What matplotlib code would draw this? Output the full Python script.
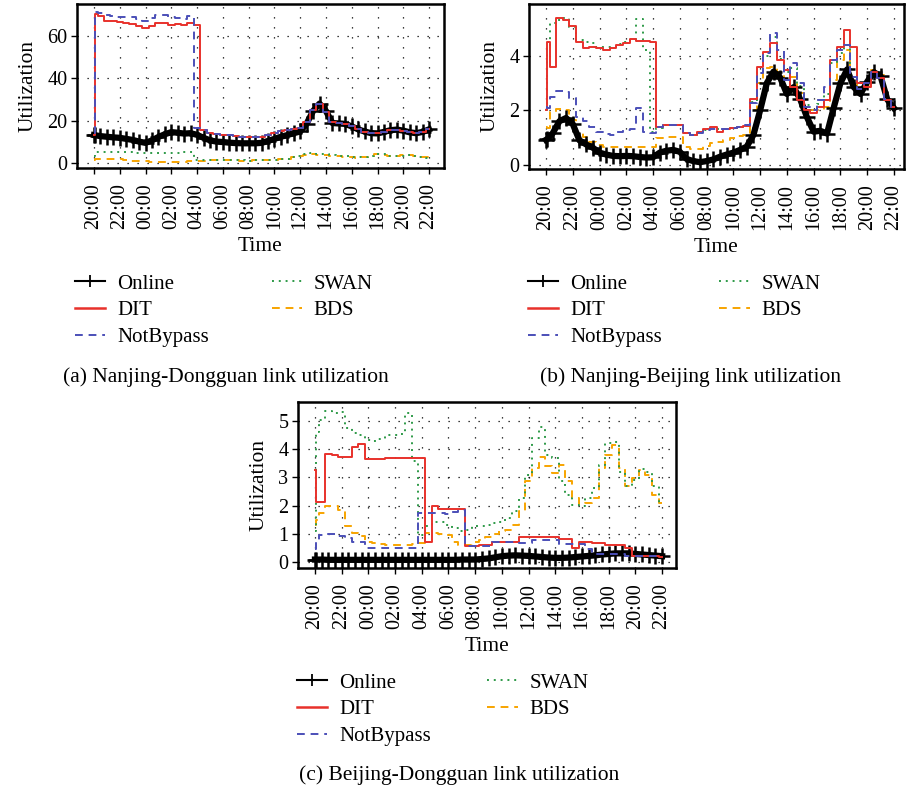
import numpy as np
import matplotlib
matplotlib.use("Agg")
import matplotlib.pyplot as plt
from matplotlib.lines import Line2D

plt.rcParams['font.family'] = ['Liberation Serif', 'DejaVu Serif']
plt.rcParams['font.size'] = 14

# time axis in hours after 20:00 (first day) up to 22:00 (next day)
hours = np.array([0.0, 0.1] + [0.5 * k for k in range(1, 53)])
tick_hours = list(range(0, 27, 2))
tick_labels = ['20:00', '22:00', '00:00', '02:00', '04:00', '06:00', '08:00',
               '10:00', '12:00', '14:00', '16:00', '18:00', '20:00', '22:00']
series_names = ['Online', 'DIT', 'NotBypass', 'SWAN', 'BDS']

# (a) Nanjing-Dongguan
nd_online = [13.1, 13.0, 12.6, 12.3, 12.0, 11.8, 11.3, 10.8, 10.0, 9.4, 10.6, 12.2, 13.5, 14.5,
             14.2, 13.8, 14.0, 13.2, 11.8, 10.6, 10.0, 9.8, 9.5, 9.3, 9.2, 9.2, 9.2, 9.4,
             10.3, 11.3, 12.3, 13.1, 14.0, 14.8, 18.5, 24.5, 28.0, 24.5, 18.8, 18.6, 18.4,
             17.2, 15.8, 14.8, 14.0, 13.9, 14.6, 15.4, 15.7, 15.2, 14.4, 14.0, 14.6, 15.8]
nd_dit = [13.0, 70.5, 69.5, 67.3, 67.0, 66.7, 66.3, 65.7, 64.8, 63.7, 65.0, 66.3, 66.0, 65.2,
          65.5, 65.3, 66.2, 65.2, 15.5, 13.9, 13.5, 13.1, 12.9, 12.6, 12.4, 12.3, 12.2, 12.3,
          13.0, 13.9, 14.8, 15.5, 16.0, 16.6, 19.5, 25.0, 28.0, 24.0, 19.2, 18.8, 18.4,
          17.4, 16.0, 14.7, 14.0, 13.9, 14.6, 15.4, 15.7, 15.2, 14.4, 14.0, 14.6, 15.8]
nd_notbypass = [14.0, 71.6, 70.8, 70.0, 69.5, 69.2, 69.0, 68.9, 68.0, 67.0, 68.5, 70.0, 69.8,
                69.2, 68.6, 68.0, 69.5, 16.5, 15.5, 14.0, 13.5, 13.1, 12.9, 12.6, 12.4, 12.3,
                12.2, 12.3, 13.0, 13.9, 14.8, 15.5, 16.0, 16.6, 19.5, 25.0, 28.0, 24.0, 19.2,
                18.8, 18.4, 17.4, 16.0, 14.7, 14.0, 13.9, 14.6, 15.4, 15.7, 15.2, 14.4, 14.0,
                14.6, 15.8]
nd_swan = [3.0, 5.2, 5.2, 5.3, 5.2, 5.2, 5.0, 4.9, 4.8, 4.7, 4.7, 4.8, 4.8, 4.7, 4.8, 5.0,
           5.2, 1.3, 1.3, 1.4, 1.5, 1.4, 1.3, 1.2, 1.1, 1.0, 1.1, 1.3, 1.3, 1.4, 1.6, 2.0,
           2.8, 3.3, 4.0, 4.7, 4.3, 4.1, 3.6, 3.4, 3.0, 2.6, 2.5, 2.6, 3.4, 4.2, 4.0, 3.4,
           3.2, 3.4, 3.5, 3.2, 2.8, 2.3]
nd_bds = [1.5, 1.6, 1.8, 1.9, 1.9, 1.6, 1.2, 0.9, 0.7, 0.6, 0.5, 0.5, 0.5, 0.5, 0.5, 0.5,
          0.6, 0.6, 1.0, 1.2, 1.3, 1.3, 1.2, 1.1, 1.0, 1.0, 1.1, 1.3, 1.3, 1.3, 1.6, 1.9,
          2.6, 3.3, 3.7, 4.0, 3.8, 3.6, 3.4, 3.2, 2.8, 2.5, 2.4, 2.5, 3.2, 4.0, 3.8, 3.2,
          3.2, 3.6, 3.5, 3.2, 2.9, 2.5]

# (b) Nanjing-Beijing
nb_online = [0.92, 0.95, 1.16, 1.60, 1.72, 1.50, 0.90, 0.75, 0.63, 0.45, 0.38, 0.33, 0.32,
             0.33, 0.32, 0.29, 0.27, 0.28, 0.45, 0.52, 0.55, 0.48, 0.22, 0.14, 0.10, 0.14,
             0.20, 0.30, 0.38, 0.45, 0.55, 0.67, 1.10, 2.00, 3.00, 3.42, 3.20, 2.60, 2.85,
             2.40, 1.75, 1.22, 1.25, 1.15, 2.10, 3.00, 3.50, 2.85, 2.60, 3.05, 3.40, 3.25,
             2.40, 2.08]
nb_dit = [2.00, 4.50, 3.60, 5.40, 5.30, 5.10, 4.50, 4.27, 4.33, 4.27, 4.22, 4.27, 4.40, 4.46,
          4.60, 4.55, 4.55, 4.52, 1.40, 1.47, 1.47, 1.47, 1.16, 1.10, 1.22, 1.32, 1.38, 1.22,
          1.30, 1.34, 1.38, 1.42, 2.40, 3.60, 4.15, 4.46, 3.85, 3.48, 2.87, 2.38, 2.00, 1.90,
          2.14, 2.38, 3.85, 4.33, 4.95, 4.33, 3.00, 2.87, 3.42, 3.20, 2.38, 2.12]
nb_notbypass = [2.14, 2.10, 2.50, 2.70, 2.66, 2.44, 1.77, 1.62, 1.40, 1.22, 1.14, 1.10, 1.22,
                1.28, 1.30, 2.10, 1.22, 1.18, 1.40, 1.47, 1.47, 1.47, 1.16, 1.10, 1.16, 1.28,
                1.30, 1.30, 1.32, 1.34, 1.40, 1.47, 2.26, 3.36, 4.10, 4.82, 4.20, 3.10, 3.72,
                3.00, 2.14, 2.00, 2.38, 2.87, 3.85, 4.20, 4.40, 3.24, 2.80, 3.00, 3.40, 3.20,
                2.40, 2.10]
nb_swan = [2.00, 4.30, 5.20, 5.30, 5.37, 5.07, 4.58, 4.52, 4.46, 4.33, 4.33, 4.33, 4.43, 4.52,
           4.60, 5.35, 4.20, 1.22, 1.35, 1.47, 1.47, 1.45, 1.16, 1.10, 1.16, 1.28, 1.30, 1.30,
           1.32, 1.36, 1.40, 1.45, 2.30, 3.40, 4.00, 4.70, 3.90, 3.40, 3.55, 2.90, 2.20, 2.00,
           2.25, 2.60, 3.75, 4.10, 4.40, 3.50, 2.75, 2.95, 3.40, 3.20, 2.40, 2.10]
nb_bds = [1.40, 1.35, 1.95, 2.04, 2.00, 1.65, 1.16, 1.04, 0.85, 0.73, 0.67, 0.65, 0.65, 0.65,
          0.65, 0.65, 0.65, 0.65, 1.00, 1.04, 1.04, 1.04, 0.67, 0.60, 0.59, 0.70, 0.82, 0.85,
          0.92, 1.00, 1.05, 1.10, 2.00, 3.00, 3.54, 3.60, 3.42, 2.87, 3.24, 2.62, 2.14, 2.00,
          2.00, 2.14, 3.10, 3.85, 4.20, 3.60, 2.75, 2.93, 3.48, 3.30, 2.38, 2.08]

# (c) Beijing-Dongguan
bd_online = [0.08, 0.08, 0.08, 0.07, 0.07, 0.07, 0.07, 0.07, 0.07, 0.07, 0.07, 0.07, 0.07,
             0.07, 0.07, 0.07, 0.07, 0.07, 0.07, 0.07, 0.07, 0.07, 0.07, 0.08, 0.08, 0.08,
             0.10, 0.12, 0.16, 0.20, 0.22, 0.23, 0.22, 0.21, 0.19, 0.17, 0.15, 0.14, 0.14,
             0.15, 0.17, 0.19, 0.21, 0.23, 0.26, 0.28, 0.30, 0.30, 0.30, 0.28, 0.26, 0.24,
             0.22, 0.20]
bd_dit = [3.27, 2.12, 2.12, 3.83, 3.80, 3.72, 3.72, 4.08, 4.20, 3.65, 3.66, 3.67, 3.68, 3.70,
          3.70, 3.70, 3.70, 3.70, 0.72, 1.97, 1.88, 1.88, 1.88, 1.88, 0.57, 0.57, 0.58, 0.60,
          0.70, 0.70, 0.70, 0.70, 0.87, 0.87, 0.87, 0.87, 0.87, 0.87, 0.82, 0.82, 0.50, 0.70,
          0.70, 0.66, 0.66, 0.58, 0.58, 0.58, 0.48, 0.22, 0.22, 0.20, 0.20, 0.18]
bd_notbypass = [0.45, 0.75, 0.94, 0.99, 0.99, 0.90, 0.84, 0.70, 0.70, 0.48, 0.48, 0.48, 0.48,
                0.48, 0.48, 0.48, 0.48, 1.73, 1.73, 1.75, 1.72, 1.70, 1.78, 1.85, 0.57, 0.57,
                0.57, 0.57, 0.72, 0.72, 0.72, 0.72, 0.66, 0.66, 0.78, 0.78, 0.78, 0.78, 0.63,
                0.63, 0.63, 0.63, 0.45, 0.27, 0.27, 0.27, 0.27, 0.27, 0.21, 0.21, 0.21, 0.21,
                0.21, 0.20]
bd_swan = [1.10, 4.60, 5.05, 5.35, 5.28, 5.32, 4.75, 4.57, 4.49, 4.34, 4.30, 4.37, 4.49, 4.50,
           4.54, 5.28, 3.60, 0.96, 1.26, 1.41, 1.43, 1.31, 1.20, 1.10, 1.14, 1.26, 1.28, 1.31,
           1.37, 1.43, 1.55, 1.79, 2.26, 3.09, 4.40, 4.80, 3.80, 3.68, 2.86, 2.38, 2.03, 1.97,
           2.26, 2.62, 3.44, 4.21, 4.27, 3.20, 2.68, 2.90, 3.30, 3.20, 2.70, 2.05]
bd_bds = [1.31, 1.50, 1.73, 2.00, 2.00, 1.85, 1.26, 1.02, 0.90, 0.72, 0.66, 0.63, 0.60, 0.60,
          0.60, 0.60, 0.63, 0.66, 1.02, 1.02, 1.00, 0.96, 0.72, 0.58, 0.60, 0.70, 0.78, 0.87,
          0.99, 1.08, 1.14, 1.31, 1.79, 2.86, 3.33, 3.74, 3.39, 3.15, 3.44, 2.86, 2.26, 2.05,
          2.09, 2.26, 3.33, 3.80, 4.15, 3.33, 2.68, 2.98, 3.27, 3.09, 2.38, 2.09]

RED = '#e8312b'
BLUE = '#4b4fb8'
GREEN = '#2e9a48'
ORANGE = '#f7a400'

W, H = 906, 791


def px_axes(fig, left, top, right, bottom):
    return fig.add_axes([left / W, 1 - bottom / H, (right - left) / W, (bottom - top) / H])


def draw_panel(ax, online, dit, notbypass, swan, bds, xlim, ylim, yticks):
    ax.plot(hours, bds, color=ORANGE, lw=1.4, ls=(0, (4, 3)), drawstyle='steps-mid')
    ax.plot(hours, swan, color=GREEN, lw=1.4, ls=(0, (1, 2.5)), drawstyle='steps-mid')
    ax.plot(hours, online, color='black', lw=4.5, marker='+', ms=11, mew=1.8)
    ax.plot(hours, dit, color=RED, lw=1.4, drawstyle='steps-mid')
    ax.plot(hours, notbypass, color=BLUE, lw=1.4, ls=(0, (4, 3)), drawstyle='steps-mid')
    ax.set_xlim(*xlim)
    ax.set_ylim(*ylim)
    ax.set_xticks(tick_hours)
    ax.set_xticklabels(tick_labels, rotation=90)
    ax.set_yticks(yticks)
    ax.grid(True, color='black', linestyle=(0, (1, 7)), linewidth=0.9)
    ax.tick_params(direction='out', length=4, width=1, labelsize=14.5)
    ax.tick_params(axis='x', pad=7)
    ax.tick_params(axis='y', pad=3)
    for s in ax.spines.values():
        s.set_linewidth(1.8)
    ax.set_xlabel('Time', fontsize=15.5, labelpad=6)
    ax.set_ylabel('Utilization', fontsize=15.5, labelpad=7)


def add_legend(fig, left, top, colspace):
    handles = [
        Line2D([], [], color='black', lw=1.5, marker='+', ms=9, mew=1.3),
        Line2D([], [], color=RED, lw=1.8),
        Line2D([], [], color=BLUE, lw=1.4, ls=(0, (4, 3))),
        Line2D([], [], color=GREEN, lw=1.4, ls=(0, (1, 2.5))),
        Line2D([], [], color=ORANGE, lw=1.4, ls=(0, (4, 3))),
    ]
    fig.legend(handles, series_names, loc='upper left', bbox_to_anchor=(left / W, 1 - top / H),
               ncol=2, frameon=False, borderpad=0, borderaxespad=0, handlelength=1.45,
               handletextpad=0.58, columnspacing=colspace, labelspacing=0.35, fontsize=15)


fig = plt.figure(figsize=(W / 100, H / 100), dpi=100)

ax_a = px_axes(fig, 77, 4, 444, 168)
draw_panel(ax_a, nd_online, nd_dit, nd_notbypass, nd_swan, nd_bds,
           (-1.32, 27.16), (-2.5, 75.2), [0, 20, 40, 60])
ax_b = px_axes(fig, 529, 4, 904, 169)
draw_panel(ax_b, nb_online, nb_dit, nb_notbypass, nb_swan, nb_bds,
           (-1.27, 26.75), (-0.15, 5.9), [0, 2, 4])
ax_c = px_axes(fig, 298, 402, 676, 568)
draw_panel(ax_c, bd_online, bd_dit, bd_notbypass, bd_swan, bd_bds,
           (-1.27, 27.04), (-0.22, 5.68), [0, 1, 2, 3, 4, 5])

add_legend(fig, 75, 274, 3.0)
add_legend(fig, 528, 274, 2.75)
add_legend(fig, 297, 673, 2.7)

fig.text(226 / W, 1 - 377 / H, '(a) Nanjing-Dongguan link utilization', ha='center', va='center', fontsize=15.5)
fig.text(690 / W, 1 - 377 / H, '(b) Nanjing-Beijing link utilization', ha='center', va='center', fontsize=15.5)
fig.text(459 / W, 1 - 775 / H, '(c) Beijing-Dongguan link utilization', ha='center', va='center', fontsize=15.5)

fig.savefig('out.png', dpi=100)
